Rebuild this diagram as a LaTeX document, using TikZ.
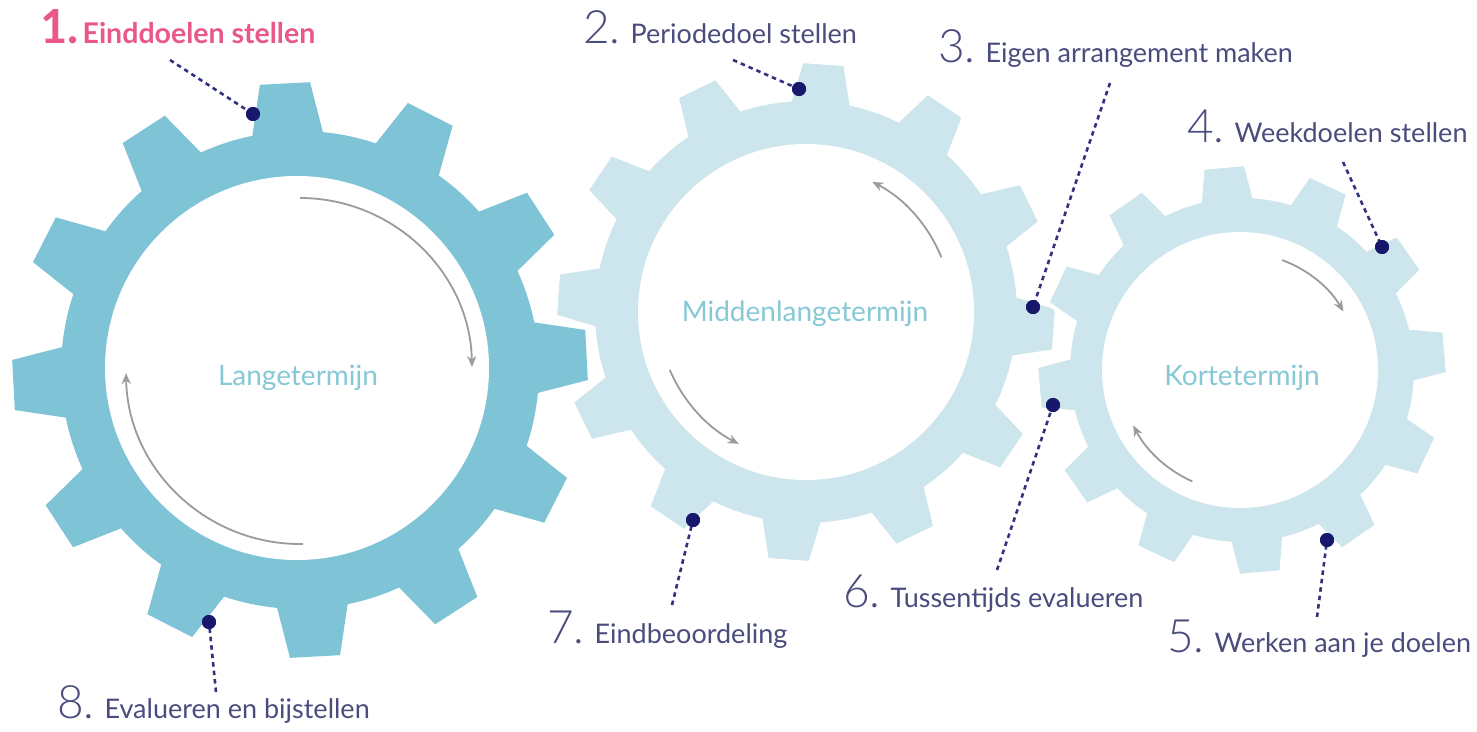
\documentclass[tikz,border=0pt]{standalone}
\usepackage{fontspec}
\setmainfont{Lato}
\IfFontExistsTF{Lato Light}{\newfontfamily\numfont{Lato Light}}{\newfontfamily\numfont{Lato}}
\usetikzlibrary{arrows.meta}
\definecolor{gearA}{HTML}{7FC4D6}
\definecolor{gearB}{HTML}{CDE6EE}
\definecolor{centertxt}{HTML}{86C9D6}
\definecolor{labtxt}{HTML}{4A4C7E}
\definecolor{navy}{HTML}{17176B}
\definecolor{leadcol}{HTML}{30327E}
\definecolor{pinktxt}{HTML}{E9578B}
\definecolor{arrgray}{HTML}{9B9B9B}

\newcommand\gearshape[7]{%
  \path[#7] ([shift={({#4-#6}:#3)}]#1)
  \foreach \i in {0,...,11}{
    -- ([shift={({#4+30*\i-#6}:#3)}]#1)
    -- ([shift={({#4+30*\i-#5}:#2)}]#1)
    -- ([shift={({#4+30*\i+#5}:#2)}]#1)
    -- ([shift={({#4+30*\i+#6}:#3)}]#1)
    arc[start angle={#4+30*\i+#6}, end angle={#4+30*\i+30-#6}, radius=#3]
  } -- cycle;
}
\newcommand\lab[2]{{\numfont\fontsize{46}{46}\selectfont #1}\hspace{10pt}{\fontsize{27}{27}\selectfont #2}}

\tikzset{
  centerlab/.style={text=centertxt, font=\fontsize{28}{28}\selectfont, inner sep=0pt},
  steplab/.style={text=labtxt, anchor=base west, inner sep=0pt},
  pinklab/.style={text=pinktxt, anchor=base west, inner sep=0pt},
  dotmark/.style={circle, fill=navy, minimum size=14pt, inner sep=0pt},
  leader/.style={draw=leadcol, line width=2.6pt, dash pattern=on 4.5pt off 4pt},
  turn/.style={draw=arrgray, line width=1.8pt, -{Stealth[length=11pt,width=9pt]}},
  gearlight/.style={fill=gearB, draw=white, line width=4pt, line join=miter},
}

\begin{document}
\begin{tikzpicture}[x=1pt,y=1pt]
\useasboundingbox (0,0) rectangle (1477,-731);
\fill[white] (0,0) rectangle (1477,-731);

\coordinate (g1) at (300,-370);
\coordinate (g2) at (806,-312);
\coordinate (g3) at (1242,-370);

% gears
\gearshape{g1}{288}{239}{3}{5}{8.5}{fill=gearA}
\fill[white] (297,-368) circle[radius=192];
\gearshape{g2}{251}{213}{-4}{5}{8.3}{gearlight}
\fill[white] (g2) circle[radius=168];
\gearshape{g3}{206}{174}{5}{6}{9}{gearlight}
\fill[white] (1240,-370) circle[radius=138];

% centre labels
\node[centerlab] (c1) at (298,-378) {Langetermijn};
\node[centerlab] (c2) at (805,-314) {Middenlangetermijn};
\node[centerlab] (c3) at (1242,-378) {Kortetermijn};

% rotation arrows
\draw[turn] ([shift={(90:172)}]g1) arc[start angle=90, end angle=1, radius=172];
\draw[turn] ([shift={(271:174)}]g1) arc[start angle=271, end angle=181, radius=174];
\draw[turn] ([shift={(22:146)}]g2) arc[start angle=22, end angle=63, radius=146];
\draw[turn] ([shift={(203:148)}]g2) arc[start angle=203, end angle=243, radius=148];
\draw[turn] ([shift={(70:117)}]g3) arc[start angle=70, end angle=30, radius=117];
\draw[turn] ([shift={(246:122)}]g3) arc[start angle=246, end angle=207, radius=122];

% step labels
\node[pinklab] (l1) at (40,-43) {{\fontsize{47}{47}\selectfont\bfseries 1.}\hspace{4pt}{\fontsize{28.5}{28.5}\selectfont\bfseries Einddoelen stellen}};
\node[steplab] (l2) at (583,-43) {\lab{2.}{Periodedoel stellen}};
\node[steplab] (l3) at (938,-62) {\lab{3.}{Eigen arrangement maken}};
\node[steplab] (l4) at (1187,-142) {\lab{4.}{Weekdoelen stellen}};
\node[steplab] (l5) at (1167,-652) {\lab{5.}{Werken aan je doelen}};
\node[steplab] (l6) at (843,-607) {\lab{6.}{Tussentijds evalueren}};
\node[steplab] (l7) at (547,-643) {\lab{7.}{Eindbeoordeling}};
\node[steplab] (l8) at (57,-718) {\lab{8.}{Evalueren en bijstellen}};

% leader ends
\coordinate (e1) at (170,-60);
\coordinate (e2) at (733,-60);
\coordinate (e3) at (1110,-83);
\coordinate (e4) at (1343,-162);
\coordinate (e5) at (1317,-617);
\coordinate (e6) at (997,-570);
\coordinate (e7) at (672,-605);
\coordinate (e8) at (216,-692);

% dots
\node[dotmark] (d1) at (253,-114) {};
\node[dotmark] (d2) at (799,-89) {};
\node[dotmark] (d3) at (1033,-307) {};
\node[dotmark] (d4) at (1382,-247) {};
\node[dotmark] (d5) at (1327,-540) {};
\node[dotmark] (d6) at (1053,-405) {};
\node[dotmark] (d7) at (693,-520) {};
\node[dotmark] (d8) at (209,-622) {};

\foreach \k in {1,...,8}{
  \draw[leader] (e\k) -- (d\k.center);
}
\foreach \k in {1,...,8}{
  \node[dotmark] at (d\k) {};
}
\end{tikzpicture}
\end{document}
